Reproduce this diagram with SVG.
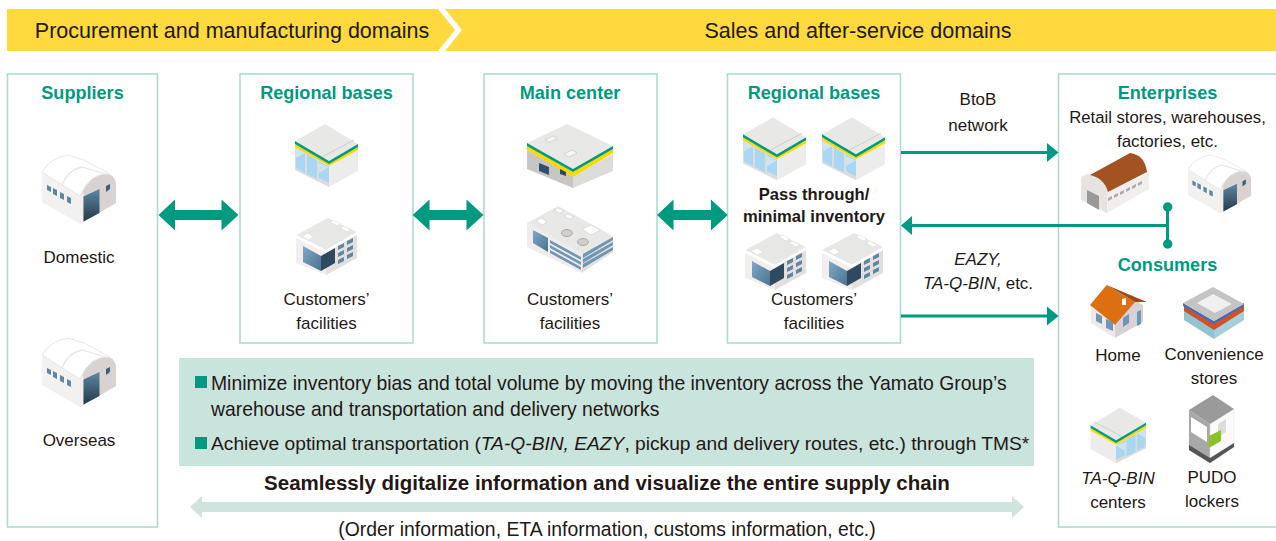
<svg xmlns="http://www.w3.org/2000/svg" xmlns:xlink="http://www.w3.org/1999/xlink" width="1276" height="541" viewBox="0 0 1276 541">
<style>
text{font-family:"Liberation Sans",Arial,sans-serif;fill:#231815;font-size:17px;text-anchor:middle}
.h{fill:#009a80;font-size:18.100px;font-weight:bold}
.box{fill:#fff;stroke:#a8d8d0;stroke-width:1.5}
.b{font-weight:bold;font-size:16.600px}
.ln{stroke:#009a80;stroke-width:3;fill:none}
.ah{fill:#009a80}
.i{font-style:italic}
.l{text-anchor:start;font-size:19.350px}
.hd{font-size:21.500px}
</style>
<defs>
<linearGradient id="dr" x1="0" y1="0" x2="0" y2="1"><stop offset="0" stop-color="#5f87a3"/><stop offset="1" stop-color="#24394a"/></linearGradient>
<linearGradient id="gl" x1="0" y1="0" x2="1" y2="1"><stop offset="0" stop-color="#80a9c6"/><stop offset="1" stop-color="#4b7390"/></linearGradient>
<g id="wh">
<path d="M42 172 L80 196 L80 224 L42 202Z" fill="#f3f0f0"/>
<path d="M80 196 Q86 178 102 174 Q113 172 116 182 L116 203 L80 224Z" fill="#d8d3d1"/>
<path d="M80 196 L83.500 192 L83.500 222 L80 224Z" fill="#f0eeee"/>
<path d="M42 172 Q50 158 68 155 L84 160 L110 174 Q90 172 80 196Z" fill="#fff" stroke="#e9e7e6" stroke-width="1"/>
<path d="M62 185 Q68 170 82 167 L106 174" fill="none" stroke="#e9e7e6" stroke-width="1.300"/>
<path d="M83.500 196.500 L99.500 189 L99.500 213 L83.500 221.500Z" fill="url(#dr)"/>
<path d="M106 186 L110 184 L110 189 L106 192Z" fill="#3d5f78"/>
<path d="M47 185 L51 187 L51 192 L47 190Z M53 188 L57 190 L57 196 L53 194Z M60 192 L64 194 L64 200 L60 198Z M67 196 L71 198 L71 204 L67 202Z" fill="#5f87a3"/>
</g>
<g id="st">
<path d="M295 147 L329 166 L329 187 L295 170Z" fill="#dcdcda"/>
<path d="M329 166 L358 149 L358 171 L329 187Z" fill="#ececea"/>
<path d="M296 148 L305 153 L305 173 L296 168Z M307 154 L317 160 L317 179 L307 174Z M319 161 L329 167 L329 183 L319 178Z" fill="#a9d6f2"/>
<path d="M296 158 L305 153 L305 150 L296 148Z M319 173 L329 167 L319 163Z" fill="#cfe4f2"/>
<path d="M295 141 L325 124 L358 144 L329 161Z" fill="#e8e8e6"/>
<path d="M322 157 L354 140" stroke="#c5c5c3" stroke-width=".8" fill="none"/>
<path d="M295 144 L329 163 L358 147 L358 150 L329 166 L295 147Z" fill="#ffd800"/>
<path d="M295 141 L329 161 L358 144 L358 147 L329 164 L295 144Z" fill="#009a80"/>
</g>
<g id="of">
<path d="M745 250 L775 268 L775 290 L745 278Z" fill="#f2eeee"/>
<path d="M775 268 L806 248 L806 273 L775 290Z" fill="#e3dfdf"/>
<path d="M745 250 L777 233 L806 247 L775 265Z" fill="#e7e7e5"/>
<path d="M745 250 L775 265 L806 247 L806 250 L775 268 L745 253Z" fill="#fff"/>
<path d="M752 261 L770 271 L770 286 L752 277Z" fill="url(#gl)"/>
<path d="M770 271 L784 263 L784 278 L770 286Z" fill="#2f4a5e"/>
<path d="M787 261 L793 258 L793 262 L787 265Z M796 256 L802 253 L802 257 L796 260Z M787 268 L793 265 L793 269 L787 272Z M796 263 L802 260 L802 264 L796 267Z M787 275 L793 272 L793 276 L787 279Z M796 270 L802 267 L802 271 L796 274Z" fill="#5f87a3"/>
<path d="M751 251 L757 248 L763 252 L757 255Z M779 237 L783 235 L790 239 L786 241Z M789 243 L793 241 L800 245 L796 247Z" fill="#fff" stroke="#ccc" stroke-width=".4"/>
</g>
</defs>
<g id="header">
<rect x="7" y="9" width="1269" height="42" fill="#ffd93d"/>
<path d="M438 9 L445 9 L462 30 L445 51 L438 51 L455 30Z" fill="#fff"/>
<text class="hd" x="232" y="38">Procurement and manufacturing domains</text>
<text class="hd" x="858" y="38">Sales and after-service domains</text>
</g>
<g id="suppliers">
<rect class="box" x="7.500" y="74" width="150" height="453"/>
<text class="h" x="82.500" y="99">Suppliers</text>
<use xlink:href="#wh" href="#wh"/>
<text x="79" y="263">Domestic</text>
<use xlink:href="#wh" href="#wh" transform="translate(0,183)"/>
<text x="79" y="446">Overseas</text>
</g>
<g id="regional-bases-1">
<rect class="box" x="240" y="74" width="173" height="269"/>
<text class="h" x="326.500" y="99">Regional bases</text>
<use xlink:href="#st" href="#st"/>
<use xlink:href="#of" href="#of" transform="translate(-449,-15)"/>
<text x="326.500" y="305">Customers’</text>
<text x="326.500" y="329">facilities</text>
</g>
<g id="main-center">
<rect class="box" x="484" y="74" width="173" height="269"/>
<text class="h" x="570" y="99">Main center</text>
<path d="M527 150 L573 176 L573 188 L527 169Z" fill="#c8c6c4"/>
<path d="M573 176 L613 154 L613 171 L573 188Z" fill="#dcdcd8"/>
<path d="M527 143 L567 124 L613 146 L573 169Z" fill="#e8e8e6"/>
<path d="M527 145 L573 172 L613 148 L613 153 L573 177 L527 150Z" fill="#ffd800"/>
<path d="M527 143 L573 169 L613 146 L613 149 L573 172 L527 146Z" fill="#009a80"/>
<path d="M539 163 L549 167 L549 175 L539 171Z" fill="#2f5068"/>
<path d="M560 169 L566 172 L566 176 L560 174Z" fill="#2f4a5e"/>
<path d="M545 140 L553 136 L557 139 L549 142Z M564 154 L572 150 L577 153 L569 157Z" fill="#f8f8f8" stroke="#bbb" stroke-width=".5"/>
<path d="M527 223 L581.700 254 L581.700 273 L527 247Z" fill="#f0ecec"/>
<path d="M581.700 254 L613 236 L613 252 L581.700 273Z" fill="#e3dfdf"/>
<path d="M527 223 L558 206 L613 236 L581.700 254Z" fill="#e8e8e6"/>
<path d="M533 230 L548 238 L548 252 L533 243Z" fill="url(#gl)"/>
<path d="M550 240 L581 257 L581 260 L550 243Z M550 245 L581 262 L581 265 L550 248Z M550 250 L581 267 L581 270 L550 253Z M583 254 L613 237 L613 240 L583 258Z M583 259 L613 242 L613 245 L583 263Z M583 264 L613 247 L613 250 L583 268Z" fill="#6f96b3"/>
<ellipse cx="567" cy="233" rx="5.500" ry="3.500" fill="#d2cec9" stroke="#8d8a85" stroke-width=".6"/>
<ellipse cx="583" cy="242" rx="5.500" ry="3.500" fill="#d2cec9" stroke="#8d8a85" stroke-width=".6"/>
<path d="M582 229 L591 225 L600 230 L591 235Z M536 221 L541 218 L547 222 L542 225Z M554 210 L558 208 L564 211 L560 213Z M564 216 L568 214 L574 217 L570 219Z" fill="#fff" stroke="#bbb" stroke-width=".4"/>
<text x="570" y="305">Customers’</text>
<text x="570" y="329">facilities</text>
</g>
<g id="regional-bases-2">
<rect class="box" x="727.500" y="74" width="173" height="269"/>
<text class="h" x="814" y="99">Regional bases</text>
<use xlink:href="#st" href="#st" transform="translate(448,-6.700)"/>
<use xlink:href="#st" href="#st" transform="translate(527,-6.700)"/>
<text class="b" x="814" y="200">Pass through/</text>
<text class="b" x="814" y="222">minimal inventory</text>
<use xlink:href="#of" href="#of"/>
<use xlink:href="#of" href="#of" transform="translate(77,0)"/>
<text x="814" y="305">Customers’</text>
<text x="814" y="329">facilities</text>
</g>
<g id="enterprises-consumers">
<rect class="box" x="1058.500" y="74" width="230" height="453"/>
<text class="h" x="1167.500" y="99">Enterprises</text>
<text x="1167.500" y="123" style="font-size:16.700px">Retail stores, warehouses,</text>
<text x="1167.500" y="147">factories, etc.</text>
<path d="M1081 177 Q1090 171 1098 175 Q1106 180 1108 192 L1107 213 L1081 200Z" fill="#e6e3e1"/>
<path d="M1108 192 L1149 172 L1149 189 L1107 213Z" fill="#f2eeee"/>
<path d="M1090 175 L1130 153 Q1145 155 1147 172 L1108 192 Q1104 178 1090 175Z" fill="#a35322"/>
<path d="M1087 190 L1099 196 L1099 210 L1087 203Z" fill="#999"/>
<path d="M1108 198 L1112 196 L1112 199 L1108 201Z M1114 195 L1118 193 L1118 196 L1114 198Z M1120 192 L1124 190 L1124 193 L1120 195Z M1126 189 L1130 187 L1130 190 L1126 192Z M1132 186 L1136 184 L1136 187 L1132 189Z M1138 183 L1142 181 L1142 184 L1138 186Z" fill="#adadad"/>
<use xlink:href="#wh" href="#wh" transform="translate(1152.400,23.200) scale(.85)"/>
<text class="h" x="1167.500" y="271">Consumers</text>
<path d="M1091 305 L1115 325 L1115 338 L1091 323Z" fill="#efe8ea"/>
<path d="M1115 325 L1133 299 L1143 305 L1143 322 L1115 338Z" fill="#d8d0d4"/>
<path d="M1090 305 L1106.700 285 L1135 302 L1115 325Z" fill="#dd6f12"/>
<path d="M1106.700 285 L1146.700 302 L1135 302Z" fill="#9c4a16"/>
<path d="M1122 299 L1126 298 L1126 305 L1122 305Z" fill="#fff"/>
<path d="M1096 313 L1102 316 L1102 324 L1096 321Z M1106 319 L1113 322 L1113 331 L1106 328Z M1123 318 L1129 314 L1129 323 L1123 327Z M1137 312 L1141 310 L1141 324 L1137 326Z" fill="#6f96b3"/>
<text x="1118" y="361">Home</text>
<path d="M1184 306 L1214 325 L1214 339 L1184 320Z" fill="#8fc4d0"/>
<path d="M1214 325 L1244 306 L1244 320 L1214 339Z" fill="#a5cfd9"/>
<path d="M1184 305 L1214 323 L1244 305 L1244 311 L1214 330 L1184 311Z" fill="#d4502a"/>
<path d="M1183 303 L1214 321 L1244 303 L1244 306 L1214 324 L1183 306Z" fill="#3f6fb5"/>
<path d="M1183 303 L1213 287 L1244 304 L1214 321Z" fill="#c4c4c4"/>
<path d="M1197 303 L1213 294 L1232 304 L1215 313Z" fill="#f0f0f0"/>
<text x="1214" y="360">Convenience</text>
<text x="1214" y="384">stores</text>
<use xlink:href="#st" href="#st" transform="translate(1405.600,298.600) scale(-.88,.88)"/>
<text class="i" x="1118" y="484">TA-Q-BIN</text>
<text x="1118" y="508">centers</text>
<path d="M1189 410 L1210 424 L1210 463 L1189 450Z" fill="#a8a8a8"/>
<path d="M1210 424 L1234 409 L1234 447 L1210 463Z" fill="#fafafa" stroke="#ddd" stroke-width=".5"/>
<path d="M1189 410 L1213 395 L1234 409 L1210 424Z" fill="#9a9a9a"/>
<path d="M1191 417 L1207 427 L1207 442 L1191 432Z" fill="#fff"/>
<path d="M1218 424 L1226 419 L1226 432 L1218 437Z" fill="#dcdcdc"/>
<path d="M1209 436 L1221 430 L1221 441 L1209 448Z" fill="#8cc21f"/>
<path d="M1189 450 L1210 463 L1234 447 L1234 443 L1210 458 L1189 445Z" fill="#555"/>
<text x="1212" y="483">PUDO</text>
<text x="1212" y="507">lockers</text>
</g>
<g id="info-panel">
<rect x="179" y="358" width="855" height="108" fill="#c9e3dd"/>
<rect x="195" y="376" width="12" height="12" fill="#009a80"/>
<rect x="195" y="437" width="12" height="12" fill="#009a80"/>
<text class="l" x="211" y="390">Minimize inventory bias and total volume by moving the inventory across the Yamato Group’s</text>
<text class="l" x="211" y="416">warehouse and transportation and delivery networks</text>
<text class="l" x="211" y="450" style="font-size:19.200px">Achieve optimal transportation (<tspan class="i">TA-Q-BIN, EAZY</tspan>, pickup and delivery routes, etc.) through TMS*</text>
<text x="607" y="490" style="font-size:20.500px;font-weight:bold">Seamlessly digitalize information and visualize the entire supply chain</text>
<text x="607" y="536" style="font-size:19.400px">(Order information, ETA information, customs information, etc.)</text>
</g>
<g id="connectors">
<path class="ah" d="M158.500 215 L175 199.500 L175 210 L221.500 210 L221.500 199.500 L238.500 215 L221.500 230.500 L221.500 220 L175 220 L175 230.500Z"/>
<path class="ah" d="M412.700 215 L429.500 199.500 L429.500 210 L466.500 210 L466.500 199.500 L483.500 215 L466.500 230.500 L466.500 220 L429.500 220 L429.500 230.500Z"/>
<path class="ah" d="M657 215 L673.500 199.500 L673.500 210 L711 210 L711 199.500 L727.700 215 L711 230.500 L711 220 L673.500 220 L673.500 230.500Z"/>
<path class="ln" d="M901 152.500 H1048"/><path class="ah" d="M1058.500 152.500 L1047 143 L1047 162Z"/>
<path class="ln" d="M1167.500 225.500 H911"/><path class="ah" d="M901 225.500 L912 216 L912 235Z"/>
<path class="ln" d="M901 316 H1048"/><path class="ah" d="M1058.500 316 L1047 306.500 L1047 325.500Z"/>
<path class="ln" d="M1167.500 207 V244"/>
<circle class="ah" cx="1167.700" cy="207" r="4.700"/><circle class="ah" cx="1167.700" cy="244" r="4.700"/>
<path fill="#cfe3df" d="M190 507 L202 496 L202 502 L1012 502 L1012 496 L1024 507 L1012 518 L1012 512 L202 512 L202 518Z"/>
</g>
<g id="connector-labels">
<text x="978" y="105">BtoB</text>
<text x="978" y="131">network</text>
<text class="i" x="978" y="265">EAZY,</text>
<text x="978" y="289"><tspan class="i">TA-Q-BIN</tspan>, etc.</text>
</g>
</svg>
